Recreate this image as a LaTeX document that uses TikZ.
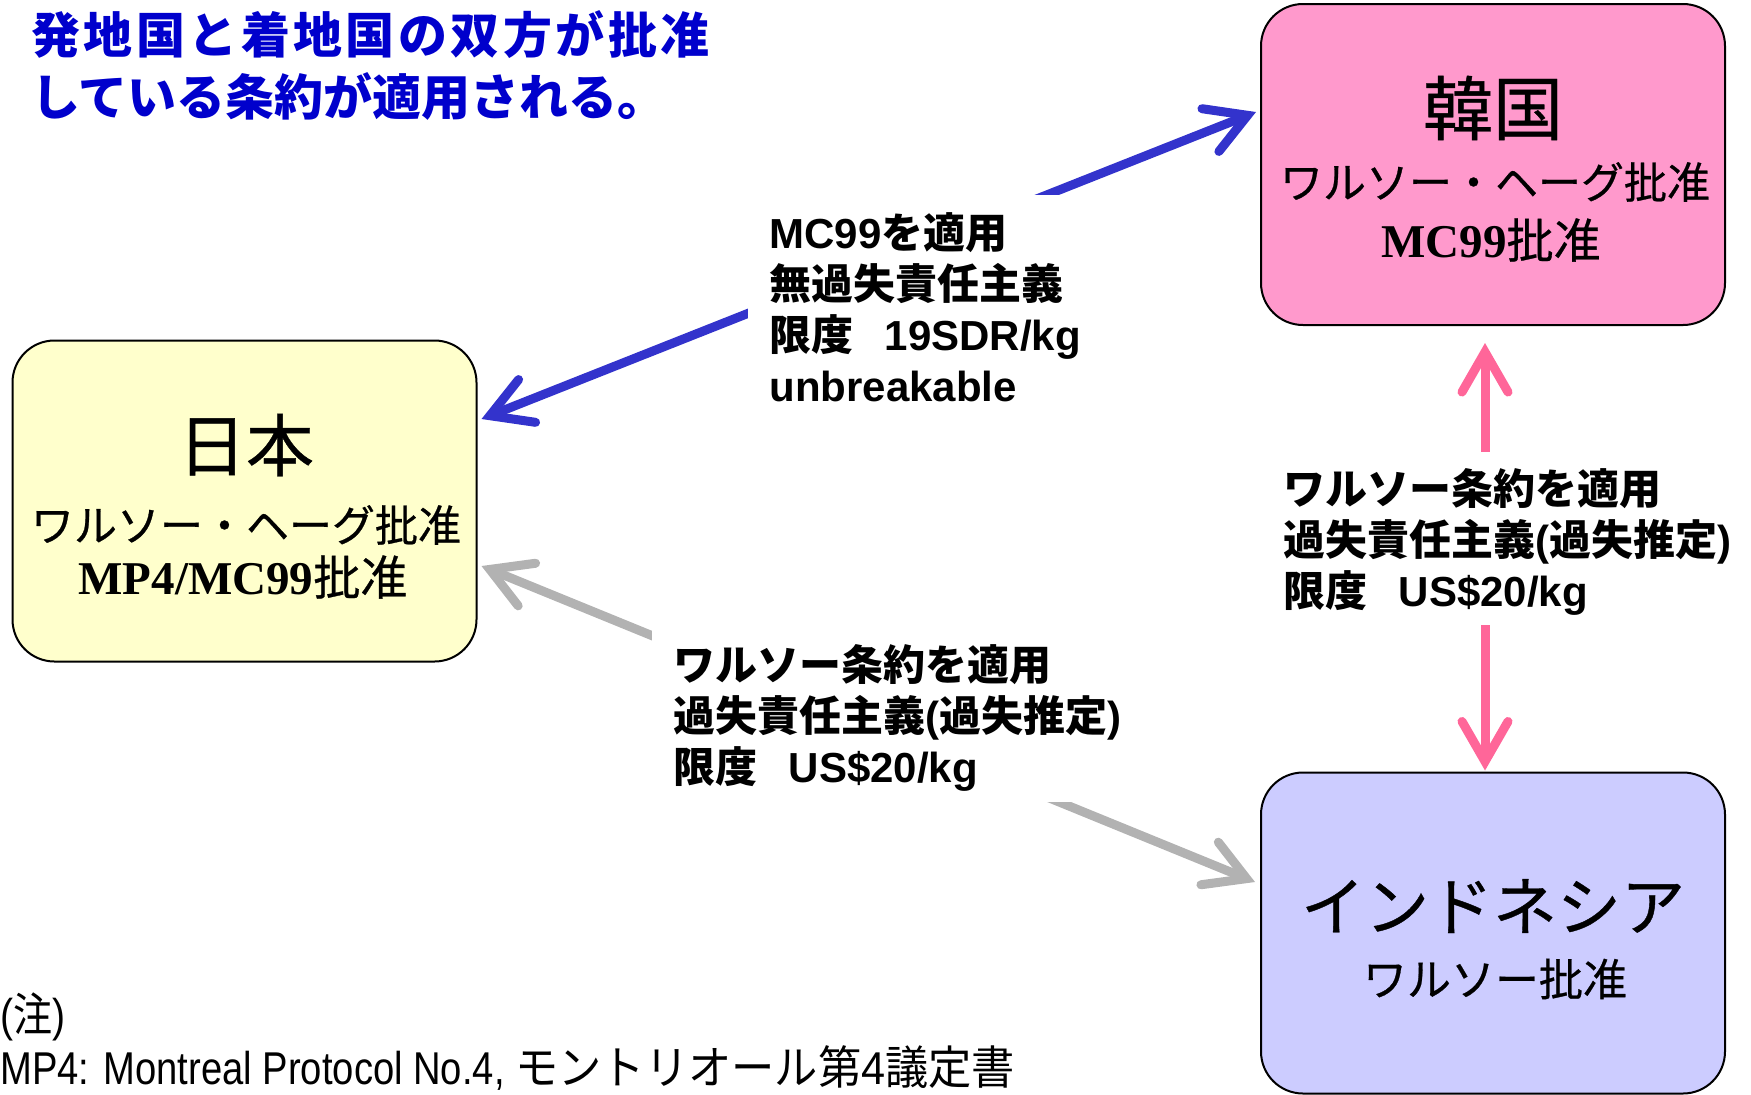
\documentclass[tikz,border=0pt]{standalone}
\usepackage{fontspec}
\usepackage{graphicx}
\usetikzlibrary{arrows.meta,calc}
\newfontfamily\jp{Noto Sans CJK JP}
\newfontfamily\jpm[FakeBold=0.6]{Noto Sans CJK JP}
\newfontfamily\arial{Liberation Sans}
\newfontfamily\tnr{Liberation Serif}
\definecolor{koreafill}{RGB}{255,153,204}
\definecolor{japanfill}{RGB}{255,255,204}
\definecolor{indofill}{RGB}{204,204,255}
\definecolor{arrblue}{RGB}{51,51,204}
\definecolor{arrpink}{RGB}{255,102,153}
\definecolor{arrgray}{RGB}{178,178,178}
\definecolor{titleblue}{RGB}{0,0,204}
\tikzset{
  box/.style={draw=black,line width=1pt,rounded corners=21pt,inner sep=0pt,
    minimum width=232pt,minimum height=160.5pt},
  boxtext/.style={inner sep=0pt,font=\jpm\fontsize{#1}{#1}\selectfont},
  conn/.style={line width=4.5pt,draw=#1,
    arrows={Straight Barb[length=20pt,width=23pt,line cap=round,line join=miter]-Straight Barb[length=20pt,width=23pt,line cap=round,line join=miter]}},
  lab/.style={fill=white,inner xsep=10.5pt,inner ysep=5pt,align=left,
    font=\arial\bfseries\fontsize{21}{25.5}\selectfont},
}
\begin{document}
\begin{tikzpicture}[x=0.5pt,y=-0.5pt]
\useasboundingbox (0,0) rectangle (1751,1094);

% title
\node[anchor=north west,inner sep=0pt,align=left,text=titleblue,
  font=\jp\bfseries\fontsize{24.5}{31}\selectfont] (title) at (31,10)
  {{\addfontfeature{LetterSpace=7}発地国と着地国の双方が批准}\\している条約が適用される。};

% boxes
\node[box,fill=koreafill] (korea) at (1493,164.5) {};
\node[box,fill=japanfill] (japan) at (244.5,501) {};
\node[box,fill=indofill] (indo) at (1493,933) {};

\node[boxtext=35] (korea-name) at (1493,108) {韓国};
\node[boxtext=21.5] (korea-r1) at (1495,182) {ワルソー・ヘーグ批准};
\node[boxtext=23.5] (korea-r2) at (1491,240) {{\tnr\bfseries MC99}批准};

\node[boxtext=34] (japan-name) at (246,445) {日本};
\node[boxtext=21.5] (japan-r1) at (246,525) {ワルソー・ヘーグ批准};
\node[boxtext=23.5] (japan-r2) at (243,577) {{\tnr\bfseries MP4/MC99}批准};

\node[boxtext=32] (indo-name) at (1493,906) {インドネシア};
\node[boxtext=22] (indo-r1) at (1495,979) {ワルソー批准};

% connectors
\draw[conn=arrblue] ([shift={(4,-82)}]japan.east) -- ([shift={(-4,-52.5)}]korea.west);
\draw[conn=arrgray] ([shift={(4,65)}]japan.east) -- ([shift={(-5,-51)}]indo.west);
\draw[conn=arrpink] ([shift={(-8,17)}]korea.south) -- ([shift={(-8,-1)}]indo.north);

% labels
\node[lab,anchor=north west] (lab-blue) at (748,195)
  {\rule{0pt}{21.5pt}MC99{\jp を適用}\\{\jp 無過失責任主義}\\{\jp 限度}\hspace{0.75em}19SDR/kg\\unbreakable};
\node[lab,anchor=south west] (lab-gray) at (652,802)
  {\rule{0pt}{26pt}{\jp ワルソー条約を適用}\\{\jp 過失責任主義}({\jp 過失推定})\\{\jp 限度}\hspace{0.75em}US\$20/kg};
\node[lab,anchor=north west] (lab-pink) at (1262,452)
  {\rule{0pt}{21pt}{\jp ワルソー条約を適用}\\{\jp 過失責任主義}({\jp 過失推定})\\{\jp 限度}\hspace{0.75em}US\$20/kg};

% note
\node[anchor=west,inner sep=0pt,font=\fontsize{23}{26}\selectfont] (note1) at (0,1017)
  {\scalebox{0.85}[1]{\arial (\jp 注\arial )}};
\node[anchor=west,inner sep=0pt,font=\fontsize{23}{26}\selectfont] (note2) at (0,1068)
  {\scalebox{0.83}[1]{\arial MP4: Montreal Protocol No.4, }\scalebox{0.94}[1]{\jp モントリオール第{\arial 4}議定書}};
\end{tikzpicture}
\end{document}
